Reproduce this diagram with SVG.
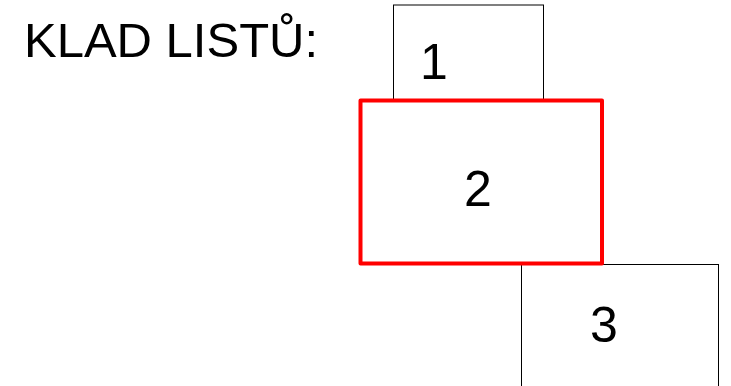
<svg xmlns="http://www.w3.org/2000/svg" width="731" height="386" viewBox="0 0 731 386">
<style>
.lbl{font-family:"Liberation Sans",Arial,sans-serif;fill:#000}
.num{font-size:50px;text-anchor:middle}
.box{fill:#fff;stroke:#000;stroke-width:1}
</style>
<rect width="731" height="386" fill="#fff"/>
<text class="lbl" x="24" y="57" font-size="49">KLAD LISTŮ:</text>
<g id="node1">
<rect class="box" x="393.5" y="5" width="150" height="100" stroke="#333"/>
<text class="lbl num" x="434" y="79">1</text>
</g>
<g id="node3">
<rect class="box" x="521.5" y="264.5" width="197" height="130"/>
<text class="lbl num" x="604" y="342">3</text>
</g>
<g id="node2">
<rect x="360.5" y="100.5" width="241.5" height="163" fill="#fff" stroke="#f00" stroke-width="4" stroke-linejoin="round"/>
<text class="lbl num" x="478" y="206">2</text>
</g>
<g id="connectors"/>
</svg>
